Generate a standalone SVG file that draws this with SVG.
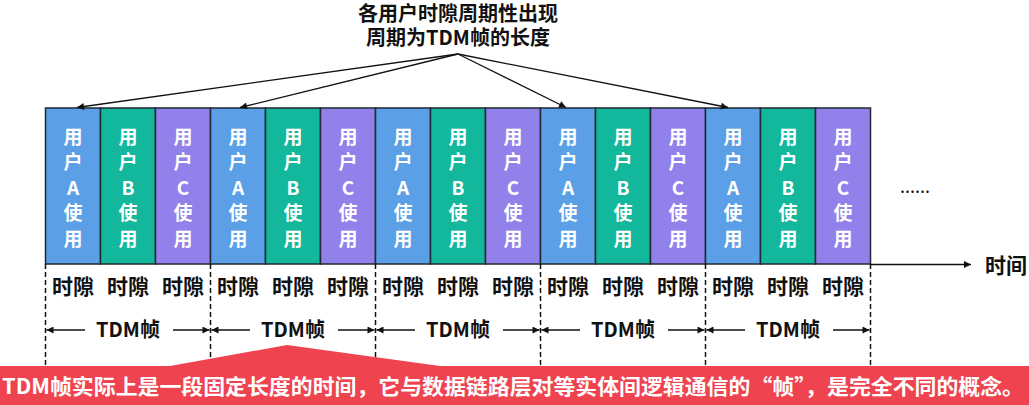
<svg xmlns="http://www.w3.org/2000/svg" width="1029" height="405" viewBox="0 0 1029 405">
<defs>
<style>
.t{font-family:"Noto Sans CJK SC","Noto Sans",sans-serif;font-weight:bold;}
.slot{stroke:#1f2a33;stroke-width:1.5;}
.a{fill:#5B9FE6;}
.b{fill:#13B79B;}
.c{fill:#9381EB;}
.st{fill:#ffffff;font-size:19px;text-anchor:middle;}
.lbl{fill:#111;font-size:21px;text-anchor:middle;}
.ln{stroke:#111;stroke-width:1.3;fill:none;}
.dash{stroke:#111;stroke-width:1.5;stroke-dasharray:5,3;fill:none;}
</style>
<marker id="ah" viewBox="0 0 10 10" refX="10" refY="5" markerWidth="9" markerHeight="7" orient="auto" markerUnits="userSpaceOnUse">
<path d="M0,0 L10,5 L0,10 Z" fill="#111"/>
</marker>
</defs>
<rect width="1029" height="405" fill="#ffffff"/>

<g id="title" class="t">
<text class="lbl" style="font-size:20px"><tspan x="458" y="21">各用户时隙周期性出现</tspan><tspan x="458" y="45">周期为TDM帧的长度</tspan></text>
</g>

<g id="slots" class="t">
<g id="slot1"><rect class="slot a" x="45.5" y="108" width="55" height="156"/><text class="st"><tspan x="73" y="144">用</tspan><tspan x="73" y="169">户</tspan><tspan x="73" y="195">A</tspan><tspan x="73" y="220">使</tspan><tspan x="73" y="246">用</tspan></text></g>
<g id="slot2"><rect class="slot b" x="100.5" y="108" width="55" height="156"/><text class="st"><tspan x="128" y="144">用</tspan><tspan x="128" y="169">户</tspan><tspan x="128" y="195">B</tspan><tspan x="128" y="220">使</tspan><tspan x="128" y="246">用</tspan></text></g>
<g id="slot3"><rect class="slot c" x="155.5" y="108" width="55" height="156"/><text class="st"><tspan x="183" y="144">用</tspan><tspan x="183" y="169">户</tspan><tspan x="183" y="195">C</tspan><tspan x="183" y="220">使</tspan><tspan x="183" y="246">用</tspan></text></g>
<g id="slot4"><rect class="slot a" x="210.5" y="108" width="55" height="156"/><text class="st"><tspan x="238" y="144">用</tspan><tspan x="238" y="169">户</tspan><tspan x="238" y="195">A</tspan><tspan x="238" y="220">使</tspan><tspan x="238" y="246">用</tspan></text></g>
<g id="slot5"><rect class="slot b" x="265.5" y="108" width="55" height="156"/><text class="st"><tspan x="293" y="144">用</tspan><tspan x="293" y="169">户</tspan><tspan x="293" y="195">B</tspan><tspan x="293" y="220">使</tspan><tspan x="293" y="246">用</tspan></text></g>
<g id="slot6"><rect class="slot c" x="320.5" y="108" width="55" height="156"/><text class="st"><tspan x="348" y="144">用</tspan><tspan x="348" y="169">户</tspan><tspan x="348" y="195">C</tspan><tspan x="348" y="220">使</tspan><tspan x="348" y="246">用</tspan></text></g>
<g id="slot7"><rect class="slot a" x="375.5" y="108" width="55" height="156"/><text class="st"><tspan x="403" y="144">用</tspan><tspan x="403" y="169">户</tspan><tspan x="403" y="195">A</tspan><tspan x="403" y="220">使</tspan><tspan x="403" y="246">用</tspan></text></g>
<g id="slot8"><rect class="slot b" x="430.5" y="108" width="55" height="156"/><text class="st"><tspan x="458" y="144">用</tspan><tspan x="458" y="169">户</tspan><tspan x="458" y="195">B</tspan><tspan x="458" y="220">使</tspan><tspan x="458" y="246">用</tspan></text></g>
<g id="slot9"><rect class="slot c" x="485.5" y="108" width="55" height="156"/><text class="st"><tspan x="513" y="144">用</tspan><tspan x="513" y="169">户</tspan><tspan x="513" y="195">C</tspan><tspan x="513" y="220">使</tspan><tspan x="513" y="246">用</tspan></text></g>
<g id="slot10"><rect class="slot a" x="540.5" y="108" width="55" height="156"/><text class="st"><tspan x="568" y="144">用</tspan><tspan x="568" y="169">户</tspan><tspan x="568" y="195">A</tspan><tspan x="568" y="220">使</tspan><tspan x="568" y="246">用</tspan></text></g>
<g id="slot11"><rect class="slot b" x="595.5" y="108" width="55" height="156"/><text class="st"><tspan x="623" y="144">用</tspan><tspan x="623" y="169">户</tspan><tspan x="623" y="195">B</tspan><tspan x="623" y="220">使</tspan><tspan x="623" y="246">用</tspan></text></g>
<g id="slot12"><rect class="slot c" x="650.5" y="108" width="55" height="156"/><text class="st"><tspan x="678" y="144">用</tspan><tspan x="678" y="169">户</tspan><tspan x="678" y="195">C</tspan><tspan x="678" y="220">使</tspan><tspan x="678" y="246">用</tspan></text></g>
<g id="slot13"><rect class="slot a" x="705.5" y="108" width="55" height="156"/><text class="st"><tspan x="733" y="144">用</tspan><tspan x="733" y="169">户</tspan><tspan x="733" y="195">A</tspan><tspan x="733" y="220">使</tspan><tspan x="733" y="246">用</tspan></text></g>
<g id="slot14"><rect class="slot b" x="760.5" y="108" width="55" height="156"/><text class="st"><tspan x="788" y="144">用</tspan><tspan x="788" y="169">户</tspan><tspan x="788" y="195">B</tspan><tspan x="788" y="220">使</tspan><tspan x="788" y="246">用</tspan></text></g>
<g id="slot15"><rect class="slot c" x="815.5" y="108" width="55" height="156"/><text class="st"><tspan x="843" y="144">用</tspan><tspan x="843" y="169">户</tspan><tspan x="843" y="195">C</tspan><tspan x="843" y="220">使</tspan><tspan x="843" y="246">用</tspan></text></g>
</g>

<g id="ellipsis" class="t"><text x="915" y="193" class="lbl" style="font-size:18px;font-weight:normal">......</text></g>

<g id="slot-labels" class="t">
<text class="lbl" y="294" x="73">时隙</text>
<text class="lbl" y="294" x="128">时隙</text>
<text class="lbl" y="294" x="183">时隙</text>
<text class="lbl" y="294" x="238">时隙</text>
<text class="lbl" y="294" x="293">时隙</text>
<text class="lbl" y="294" x="348">时隙</text>
<text class="lbl" y="294" x="403">时隙</text>
<text class="lbl" y="294" x="458">时隙</text>
<text class="lbl" y="294" x="513">时隙</text>
<text class="lbl" y="294" x="568">时隙</text>
<text class="lbl" y="294" x="623">时隙</text>
<text class="lbl" y="294" x="678">时隙</text>
<text class="lbl" y="294" x="733">时隙</text>
<text class="lbl" y="294" x="788">时隙</text>
<text class="lbl" y="294" x="843">时隙</text>
</g>

<g id="frame-labels" class="t">
<text class="lbl" style="font-size:20px" x="128" y="337">TDM帧</text>
<text class="lbl" style="font-size:20px" x="293" y="337">TDM帧</text>
<text class="lbl" style="font-size:20px" x="458" y="337">TDM帧</text>
<text class="lbl" style="font-size:20px" x="623" y="337">TDM帧</text>
<text class="lbl" style="font-size:20px" x="788" y="337">TDM帧</text>
</g>

<g id="time-label" class="t"><text class="lbl" x="1006" y="273">时间</text></g>

<g id="connectors">
<line class="ln" x1="458" y1="54" x2="77" y2="107.5" marker-end="url(#ah)"/>
<line class="ln" x1="458" y1="54" x2="240" y2="107.5" marker-end="url(#ah)"/>
<line class="ln" x1="458" y1="54" x2="566" y2="107.5" marker-end="url(#ah)"/>
<line class="ln" x1="458" y1="54" x2="728" y2="107.5" marker-end="url(#ah)"/>
<line class="ln" x1="870.5" y1="264.5" x2="971" y2="264.5" marker-end="url(#ah)" style="stroke-width:1.5"/>
<line class="dash" x1="45.5" y1="264" x2="45.5" y2="366"/>
<line class="dash" x1="210.5" y1="264" x2="210.5" y2="366"/>
<line class="dash" x1="375.5" y1="264" x2="375.5" y2="366"/>
<line class="dash" x1="540.5" y1="264" x2="540.5" y2="366"/>
<line class="dash" x1="705.5" y1="264" x2="705.5" y2="366"/>
<line class="dash" x1="870.5" y1="264" x2="870.5" y2="366"/>
<line class="ln" x1="85" y1="330" x2="46.5" y2="330" marker-end="url(#ah)"/>
<line class="ln" x1="173" y1="330" x2="209.5" y2="330" marker-end="url(#ah)"/>
<line class="ln" x1="250" y1="330" x2="211.5" y2="330" marker-end="url(#ah)"/>
<line class="ln" x1="338" y1="330" x2="374.5" y2="330" marker-end="url(#ah)"/>
<line class="ln" x1="415" y1="330" x2="376.5" y2="330" marker-end="url(#ah)"/>
<line class="ln" x1="503" y1="330" x2="539.5" y2="330" marker-end="url(#ah)"/>
<line class="ln" x1="580" y1="330" x2="541.5" y2="330" marker-end="url(#ah)"/>
<line class="ln" x1="668" y1="330" x2="704.5" y2="330" marker-end="url(#ah)"/>
<line class="ln" x1="745" y1="330" x2="706.5" y2="330" marker-end="url(#ah)"/>
<line class="ln" x1="833" y1="330" x2="869.5" y2="330" marker-end="url(#ah)"/>
</g>

<g id="banner">
<path d="M0,366 L170,366 L287,345 L440,366 L1029,366 L1029,405 L0,405 Z" fill="#EF4350"/>
<text class="t" x="513" y="394" fill="#ffffff" style="font-size:21px" text-anchor="middle" textLength="1022" lengthAdjust="spacingAndGlyphs">TDM帧实际上是一段固定长度的时间，它与数据链路层对等实体间逻辑通信的“帧”，是完全不同的概念。</text>
</g>
</svg>
